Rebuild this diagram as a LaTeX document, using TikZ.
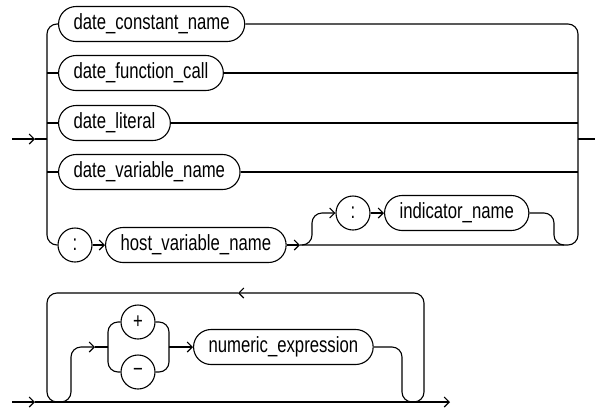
\documentclass[tikz,border=0pt]{standalone}
\usepackage{fontspec}
\setmainfont{Liberation Sans}[FakeStretch=0.76]
\usetikzlibrary{arrows.meta}

\tikzset{
  railbox/.style={draw, rectangle, rounded corners=17.5pt, minimum height=35pt,
    inner xsep=15pt, inner ysep=0pt, font=\fontsize{22}{24}\selectfont},
  railsym/.style={draw, circle, minimum size=34pt, inner sep=0pt,
    font=\fontsize{22}{24}\selectfont},
  rail/.style={rounded corners=10pt},
  arr/.tip={Straight Barb[length=5pt,width=10pt]},
}

\begin{document}
\begin{tikzpicture}[x=1pt, y=-1pt, line width=1.1pt]
  \useasboundingbox (0,0) rectangle (595,408);
  % Upper diagram: boxes
  \node[railbox, anchor=west] (dconst) at (58,24) {date\_constant\_name};
  \node[railbox, anchor=west] (dfunc) at (58,73) {date\_function\_call};
  \node[railbox, anchor=west] (dlit) at (58,123) {date\_literal};
  \node[railbox, anchor=west] (dvar) at (58,172) {date\_variable\_name};
  \node[railsym] (hcolon) at (75,245) {:};
  \node[railbox, anchor=west] (hostvar) at (105,245) {host\_variable\_name};
  \node[railsym] (icolon) at (353,213) {:};
  \node[railbox, anchor=west] (indname) at (384,213) {indicator\_name};
  % Upper diagram: junctions
  \coordinate (start) at (12,139);
  \coordinate (startarr) at (35,139);
  \coordinate (lsplit) at (47,139);
  \coordinate (rsplit) at (578,139);
  \coordinate (finish) at (595,139);
  \coordinate (hostarr) at (300,245);
  \coordinate (indsplit) at (302,245);
  \coordinate (indrise) at (312,245);
  \coordinate (inddrop) at (554,245);
  \coordinate (indjoin) at (564,245);
  % Entry and left split
  \draw[-arr] (start) -- (startarr);
  \draw (startarr) -- (lsplit);
  \draw[rail] (lsplit) |- (dconst.west);
  \draw (dfunc.west -| lsplit) -- (dfunc.west);
  \draw (dlit.west -| lsplit) -- (dlit.west);
  \draw (dvar.west -| lsplit) -- (dvar.west);
  \draw[rail] (lsplit) |- (hcolon.west);
  \draw[-arr] (hcolon) -- (hostvar);
  % Right join and exit
  \draw[rail] (dconst.east) -| (rsplit);
  \draw (dfunc.east) -- (dfunc.east -| rsplit);
  \draw (dlit.east) -- (dlit.east -| rsplit);
  \draw (dvar.east) -- (dvar.east -| rsplit);
  \draw[-arr] (hostvar.east) -- (hostarr);
  \draw[rail] (hostarr) -| (rsplit);
  \draw (rsplit) -- (finish);
  % Optional indicator
  \draw[rail, -arr] (indsplit) -- (indrise) |- (icolon.west);
  \draw[-arr] (icolon) -- (indname);
  \draw[rail] (indname.east) -| (inddrop) -- (indjoin);

  % Lower diagram: boxes
  \node[railsym] (plus) at (138,322) {+};
  \node[railsym] (minus) at (138,372) {−};
  \node[railbox, anchor=west] (numexpr) at (193,347) {numeric\_expression};
  % Lower diagram: junctions
  \coordinate (bstart) at (12,402);
  \coordinate (bstartarr) at (35,402);
  \coordinate (bfinish) at (450,402);
  \coordinate (loopin) at (414,402);
  \coordinate (looptop) at (424,293);
  \coordinate (looparr) at (238,293);
  \coordinate (loopdown) at (47,402);
  \coordinate (loopout) at (57,402);
  \coordinate (optout) at (61,402);
  \coordinate (optup) at (71,347);
  \coordinate (optarr) at (95,347);
  \coordinate (chl) at (108,347);
  \coordinate (chr) at (169,347);
  \coordinate (numdrop) at (402,402);
  \coordinate (numjoin) at (412,402);
  % Main line
  \draw[-arr] (bstart) -- (bstartarr);
  \draw[-arr] (bstartarr) -- (bfinish);
  % Loop back
  \draw[rail, -arr] (loopin) -| (looptop) -- (looparr);
  \draw[rail] (looparr) -| (loopdown) -- (loopout);
  % Sign choice and expression
  \draw[rail, -arr] (optout) -| (optup) -- (optarr);
  \draw (optarr) -- (chl);
  \draw[rail] (chl) |- (plus.west);
  \draw[rail] (chl) |- (minus.west);
  \draw[rail] (plus.east) -| (chr);
  \draw[rail] (minus.east) -| (chr);
  \draw[-arr] (chr) -- (numexpr.west);
  \draw[rail] (numexpr.east) -| (numdrop) -- (numjoin);
\end{tikzpicture}
\end{document}
